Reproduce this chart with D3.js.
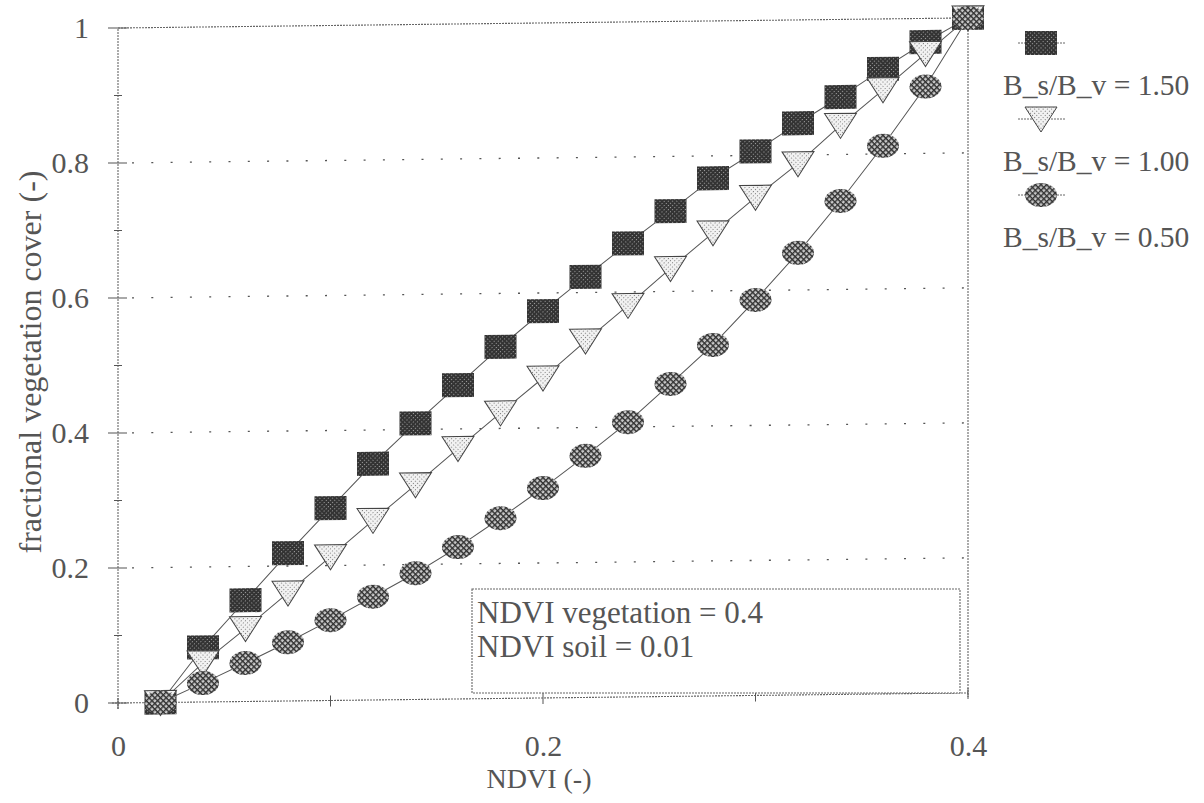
<!DOCTYPE html>
<html>
<head>
<meta charset="utf-8">
<script src="https://cdn.jsdelivr.net/npm/d3@7"></script>
<style>
  body { margin: 0; background: #fff; }
  svg text { font-family: "Times New Roman", "Liberation Serif", Times, "DejaVu Serif", serif !important; fill: #555; }
</style>
</head>
<body>
<svg id="chart" width="1204" height="803"></svg>
<script>
// NDVI values along the x axis
const ndvi = [0.02, 0.04, 0.06, 0.08, 0.10, 0.12, 0.14, 0.16, 0.18, 0.20,
              0.22, 0.24, 0.26, 0.28, 0.30, 0.32, 0.34, 0.36, 0.38, 0.40];
// fractional vegetation cover for each soil/vegetation ratio
const fcRatio150 = [0, 0.081, 0.150, 0.219, 0.285, 0.350, 0.409, 0.465, 0.521, 0.573,
                    0.623, 0.672, 0.719, 0.767, 0.806, 0.847, 0.885, 0.926, 0.965, 1.0];
const fcRatio100 = [0, 0.058, 0.108, 0.160, 0.213, 0.266, 0.318, 0.371, 0.423, 0.474,
                    0.528, 0.580, 0.634, 0.686, 0.738, 0.787, 0.843, 0.895, 0.948, 1.0];
const fcRatio050 = [0, 0.028, 0.057, 0.087, 0.119, 0.153, 0.187, 0.225, 0.267, 0.311,
                    0.358, 0.407, 0.463, 0.520, 0.586, 0.655, 0.731, 0.812, 0.899, 1.0];
const seriesLabels = ["B_s/B_v = 1.50", "B_s/B_v = 1.00", "B_s/B_v = 0.50"];
const seriesShapes = ["square", "triangle", "circle"];

const xTickValues = [0, 0.2, 0.4];
const xMinorTicks = [0.1, 0.3];
const yTickValues = [0, 0.2, 0.4, 0.6, 0.8, 1];
const yMinorTicks = [0.1, 0.3, 0.5, 0.7, 0.9];
const gridValues = [0.2, 0.4, 0.6, 0.8];
const noteLines = ["NDVI vegetation = 0.4", "NDVI soil = 0.01"];
const xTitle = "NDVI (-)";
const yTitle = "fractional vegetation cover (-)";

const series = [fcRatio150, fcRatio100, fcRatio050].map((vals, i) => ({
  label: seriesLabels[i],
  shape: seriesShapes[i],
  points: vals.map((v, j) => ({ x: ndvi[j], y: v }))
}));

const svg = d3.select("#chart");
const x = d3.scaleLinear().domain([0, 0.4]).range([118, 968]);
const y = d3.scaleLinear().domain([0, 1]).range([703, 28]);
const serif = "'Times New Roman', 'Liberation Serif', Times, serif";

// ---- fill patterns for the markers ----
const defs = svg.append("defs");
const meshDark = defs.append("pattern").attr("id", "meshDark")
  .attr("patternUnits", "userSpaceOnUse").attr("width", 3).attr("height", 3)
  .attr("patternTransform", "rotate(45)");
meshDark.append("rect").attr("width", 3).attr("height", 3).attr("fill", "#333");
meshDark.append("rect").attr("width", 1).attr("height", 1).attr("fill", "#a8a8a8");

const hatch = defs.append("pattern").attr("id", "hatch")
  .attr("patternUnits", "userSpaceOnUse").attr("width", 4).attr("height", 4)
  .attr("patternTransform", "rotate(45)");
hatch.append("rect").attr("width", 4).attr("height", 4).attr("fill", "#c8c8c8");
hatch.append("rect").attr("width", 4).attr("height", 1.4).attr("fill", "#333");
hatch.append("rect").attr("width", 1.4).attr("height", 4).attr("fill", "#333");

const stipple = defs.append("pattern").attr("id", "stipple")
  .attr("patternUnits", "userSpaceOnUse").attr("width", 3).attr("height", 3)
  .attr("patternTransform", "rotate(45)");
stipple.append("rect").attr("width", 3).attr("height", 3).attr("fill", "#f2f2f2");
stipple.append("rect").attr("width", 1).attr("height", 1).attr("fill", "#777");

// marker painter shared by plot and legend
function drawMarker(g, shape) {
  if (shape === "square") {
    g.append("rect").attr("x", -16).attr("y", -12).attr("width", 32).attr("height", 24)
      .attr("fill", "url(#meshDark)");
  } else if (shape === "triangle") {
    g.append("path").attr("d", "M-16,-12 L16,-12 L0,13 Z")
      .attr("fill", "url(#stipple)").attr("stroke", "#444").attr("stroke-width", 1);
  } else {
    g.append("ellipse").attr("rx", 16).attr("ry", 12)
      .attr("fill", "url(#hatch)");
  }
}

// ---- plot frame, slightly skewed like the printed figure ----
const plot = svg.append("g")
  .attr("transform", "translate(118,0) skewY(-0.68) translate(-118,0)");

plot.append("g").selectAll("line").data(gridValues).join("line")
  .attr("x1", x(0) + 14).attr("x2", x(0.4))
  .attr("y1", d => y(d)).attr("y2", d => y(d))
  .attr("stroke", "#555").attr("stroke-width", 1.3)
  .attr("stroke-dasharray", "2,17.3");

const frameStyle = sel => sel.attr("stroke", "#666").attr("stroke-width", 1.1)
  .attr("stroke-dasharray", "2,1").attr("fill", "none");
plot.append("line").attr("x1", x(0)).attr("x2", x(0)).attr("y1", y(0) + 6).attr("y2", y(1)).call(frameStyle);
plot.append("line").attr("x1", x(0) - 6).attr("x2", x(0.4)).attr("y1", y(0)).attr("y2", y(0)).call(frameStyle);
plot.append("line").attr("x1", x(0)).attr("x2", x(0.4)).attr("y1", y(1)).attr("y2", y(1)).call(frameStyle);
plot.append("line").attr("x1", x(0.4)).attr("x2", x(0.4)).attr("y1", y(1)).attr("y2", y(0) + 4).call(frameStyle);

// y ticks crossing the axis
plot.append("g").selectAll("line").data(yTickValues).join("line")
  .attr("x1", x(0) - 10).attr("x2", x(0) + 9)
  .attr("y1", d => y(d)).attr("y2", d => y(d))
  .attr("stroke", "#555").attr("stroke-width", 1);
plot.append("g").selectAll("line").data(yMinorTicks).join("line")
  .attr("x1", x(0) - 4).attr("x2", x(0) + 4)
  .attr("y1", d => y(d)).attr("y2", d => y(d))
  .attr("stroke", "#555").attr("stroke-width", 1);
// x ticks crossing the axis
plot.append("g").selectAll("line").data(xTickValues.concat(xMinorTicks)).join("line")
  .attr("x1", d => x(d)).attr("x2", d => x(d))
  .attr("y1", y(0) - 5).attr("y2", y(0) + 6)
  .attr("stroke", "#555").attr("stroke-width", 1);

// ---- series: connecting lines then markers ----
const lineGen = d3.line().x(d => x(d.x)).y(d => y(d.y));
series.forEach(s => {
  const g = plot.append("g");
  g.append("path").datum(s.points).attr("d", lineGen)
    .attr("fill", "none").attr("stroke", "#555").attr("stroke-width", 1);
  g.selectAll("g.m").data(s.points).join("g").attr("class", "m")
    .attr("transform", d => `translate(${x(d.x)},${y(d.y)})`)
    .each(function () { drawMarker(d3.select(this), s.shape); });
});

// ---- axis labels ----
const yAxis = d3.axisLeft(y).tickValues(yTickValues).tickSize(0).tickPadding(29)
  .tickFormat(d => d === 0 || d === 1 ? d3.format("d")(d) : d3.format(".1f")(d));
const yAxisG = svg.append("g").attr("transform", `translate(${x(0)},0)`).call(yAxis)
  .attr("font-family", serif).attr("font-size", 30);
yAxisG.select(".domain").remove();
yAxisG.selectAll("text").attr("fill", "#555");

const xAxis = d3.axisBottom(x).tickValues(xTickValues).tickSize(0).tickPadding(32)
  .tickFormat(d => d === 0 ? "0" : d3.format(".1f")(d));
const xAxisG = svg.append("g").attr("transform", `translate(0,${y(0)})`).call(xAxis)
  .attr("font-family", serif).attr("font-size", 30);
xAxisG.select(".domain").remove();
xAxisG.selectAll("text").attr("fill", "#555");

svg.append("text").attr("x", 539).attr("y", 788).attr("text-anchor", "middle")
  .attr("font-size", 28).text(xTitle);
svg.append("text").attr("transform", "translate(41,362) rotate(-90)")
  .attr("text-anchor", "middle").attr("font-size", 32).text(yTitle);

// ---- parameter note box ----
const note = svg.append("g");
note.append("rect").attr("x", 472).attr("y", 589).attr("width", 488).attr("height", 104)
  .attr("fill", "#fff").attr("stroke", "#666").attr("stroke-width", 1.1)
  .attr("stroke-dasharray", "2,1");
note.selectAll("text").data(noteLines).join("text")
  .attr("x", 477).attr("y", (d, i) => 623 + i * 34)
  .attr("font-size", 31).text(d => d);

// ---- legend ----
const legend = svg.append("g");
series.forEach((s, i) => {
  const cy = 43 + i * 76;
  legend.append("line").attr("x1", 1018).attr("x2", 1066).attr("y1", cy).attr("y2", cy)
    .attr("stroke", "#666").attr("stroke-width", 1).attr("stroke-dasharray", "2,1");
  const m = legend.append("g").attr("transform", `translate(1041,${cy})`);
  drawMarker(m, s.shape);
  legend.append("text").attr("x", 1003).attr("y", cy + 52)
    .attr("font-size", 29.5).text(s.label);
});
</script>
</body>
</html>
